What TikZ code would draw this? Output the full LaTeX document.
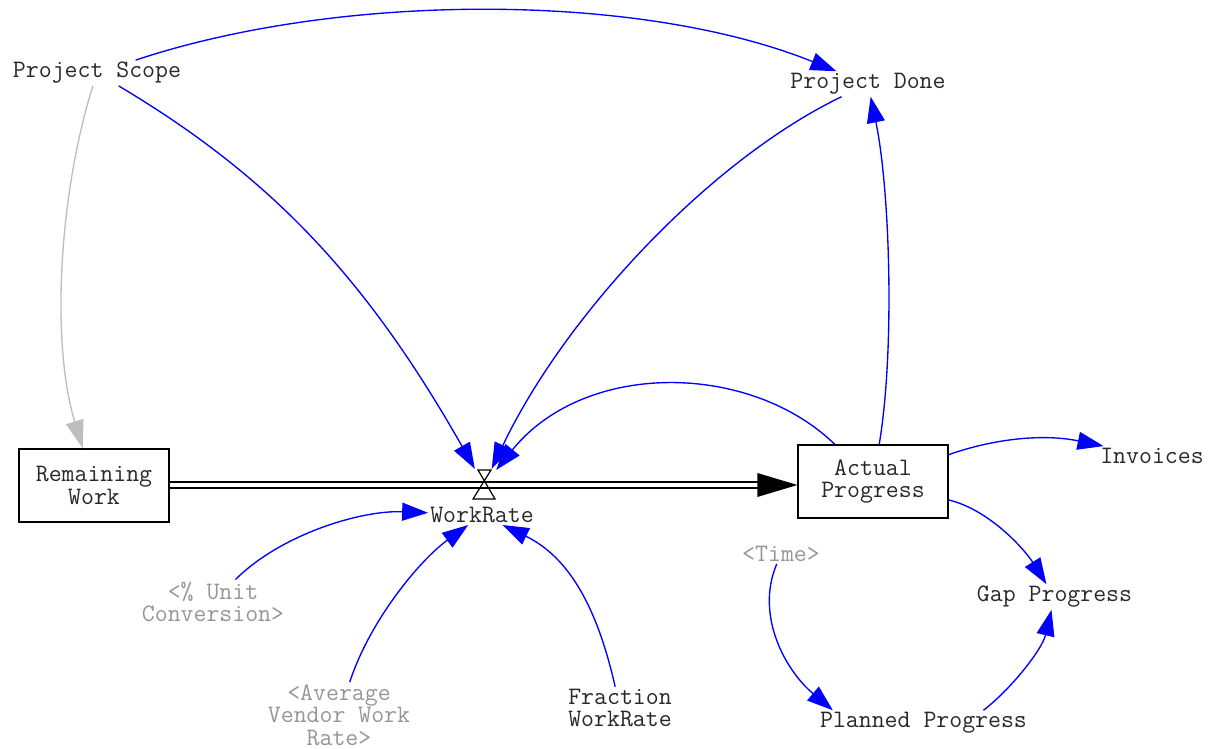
\documentclass[tikz,border=0pt]{standalone}
\usepackage{fontspec}
\usetikzlibrary{arrows.meta}
\definecolor{linkblue}{RGB}{0,0,255}
\definecolor{shadowtext}{RGB}{150,150,150}
\definecolor{labeltext}{RGB}{40,40,40}
\definecolor{scopelink}{RGB}{190,190,190}

\begin{document}
\begin{tikzpicture}[x=1pt,y=-1pt,
  lbl/.style={font=\ttfamily\fontsize{25.1}{22.7}\selectfont, text=labeltext, align=center, inner sep=2pt},
  shadowvar/.style={lbl, text=shadowtext},
  stock/.style={lbl, draw=black, line width=1.3pt, minimum width=150pt, minimum height=73pt},
  link/.style={draw=linkblue, line width=1.35pt, -{Triangle[length=26pt,width=18pt]}},
  greylink/.style={draw=scopelink, line width=1.35pt, -{Triangle[length=28pt,width=18pt]}},
  pipe/.style={draw=black, line width=1.3pt, double=white, double distance=4.7pt}
]
\useasboundingbox (0,0) rectangle (1212,749);

% stocks
\node[stock] (rw) at (94,485.5) {Remaining\\Work};
\node[stock] (ap) at (873,481.5) {Actual\\Progress};

% auxiliaries
\node[lbl] (scope) at (97,73) {Project Scope};
\node[lbl] (done) at (868,84) {Project Done};
\node[lbl] (workrate) at (482,515) {WorkRate};
\node[lbl] (invoices) at (1152,456) {Invoices};
\node[lbl] (gap) at (1054.5,597) {Gap Progress};
\node[lbl] (planned) at (923.5,723) {Planned Progress};
\node[lbl] (fraction) at (620,708) {Fraction\\WorkRate};

% shadow variables
\node[shadowvar] (time) at (781,554) {<Time>};
\node[shadowvar] (unit) at (213,602) {<\% Unit\\Conversion>};
\node[shadowvar] (avg) at (339,715) {<Average\\Vendor Work\\Rate>};

% flow: pipe, valve and arrowhead
\node[minimum width=24pt, minimum height=32pt, inner sep=0pt] (valve) at (484,485) {};
\draw[pipe] (rw.east |- valve) -- ([xshift=-38pt]ap.west |- valve);
\fill[black] (ap.west |- valve) -- ++(-40pt,12pt) -- ++(0pt,-24pt) -- cycle;
\draw[line width=1.2pt, line join=miter] (478,470) -- (491,470) -- (473,499) -- (495,499) -- cycle;

% information links
\draw[link] (scope) .. controls (340,-8) and (640,-8) .. (done);
\draw[link] (scope) .. controls (270,176) and (366,277) .. (valve);
\draw[link] (done) .. controls (710,160) and (565,315) .. (valve);
\draw[link] (ap) .. controls (750,362) and (585,360) .. (valve);
\draw[link] (ap) .. controls (895,350) and (890,190) .. (done);
\draw[link] (ap) .. controls (990,440) and (1040,433) .. (invoices);
\draw[link] (ap) .. controls (990,510) and (1025,550) .. (gap);
\draw[link] (unit) .. controls (280,535) and (360,510) .. (workrate);
\draw[link] (avg) .. controls (370,620) and (420,560) .. (workrate);
\draw[link] (fraction) .. controls (600,620) and (575,560) .. (workrate);
\draw[link] (time) .. controls (755,615) and (785,670) .. (planned.172);
\draw[link] (planned.12) .. controls (1010,690) and (1042,650) .. (gap);
\draw[greylink] (scope) .. controls (60,190) and (50,340) .. (rw);
\end{tikzpicture}
\end{document}
